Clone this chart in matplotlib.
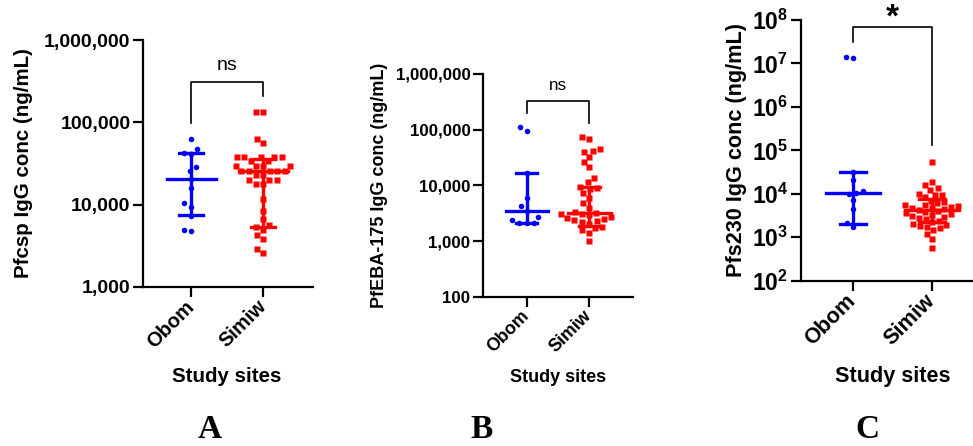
import numpy as np
import matplotlib.pyplot as plt
from matplotlib.ticker import FixedLocator, FuncFormatter, NullLocator

# Arial-like font, bold mathtext for the 10^n labels of panel C
plt.rcParams['font.family'] = 'Liberation Sans'
plt.rcParams['mathtext.fontset'] = 'custom'
plt.rcParams['mathtext.rm'] = 'Liberation Sans:bold'
plt.rcParams['mathtext.bf'] = 'Liberation Sans:bold'
plt.rcParams['mathtext.default'] = 'bf'

sites = ["Obom", "Simiw"]

# Panel A - Pfcsp IgG (ng/mL)
csp_obom = [63000, 47300, 42400, 41200, 28300, 25300, 20600, 15900, 10500, 9470, 7220, 4980, 4840]
csp_simiw = [135000, 133000, 63000, 56000, 37900, 37900, 37900, 37900, 37900, 34100, 34100,
             29100, 29100, 29100, 29100, 25300, 25300, 25300, 25300, 25300, 23100, 23100,
             20100, 20100, 20100, 18000, 18000, 11700, 8450, 6760, 5620, 5370, 4980, 4320,
             3800, 2900, 2600]
csp_median = [20600, 25300]
csp_low = [7400, 5400]
csp_high = [42700, 36000]
csp_bracket = [98600, 313000, 209000]

# Panel B - PfEBA-175 IgG (ng/mL)
eba_obom = [110000, 95000, 16500, 5900, 4170, 3470, 2700, 2350, 2090, 2090, 2090]
eba_simiw = [73000, 67000, 45000, 42000, 40000, 32000, 26000, 21000, 13500, 11500, 9500,
             9000, 8500, 7200, 6000, 4800, 4000, 3300, 3200, 3100, 3000, 2900, 2700, 2600,
             2500, 2400, 2300, 2200, 2000, 1800, 1700, 1600, 1400, 1000]
eba_median = [3470, 3200]
eba_low = [2090, 1900]
eba_high = [16500, 9250]
eba_bracket = [200000, 327000, 134000]

# Panel C - Pfs230 IgG (ng/mL)
s230_obom = [13800000, 13100000, 31000, 20800, 11600, 10700, 9800, 7200, 4480, 2090, 1750]
s230_simiw = [55000, 18400, 15900, 13300, 12200, 9900, 9600, 9400, 8600, 7000, 6500, 6000,
              5600, 5400, 5200, 5000, 4800, 4600, 4400, 4200, 4000, 3800, 3600, 3400, 3300,
              3100, 3000, 2800, 2600, 2400, 2200, 2000, 1900, 1800, 1750, 1600, 1500, 1200,
              900, 580]
s230_median = [10700, 4300]
s230_low = [2030, 2300]
s230_high = [31000, 7500]
s230_bracket = [31600000, 70000000, 133000]

blue = "#0000FF"
red = "#FF0000"

W, H = 973, 446
fig = plt.figure(figsize=(W / 100, H / 100), dpi=100)


def px_axes(left, top, right, bottom):
    return fig.add_axes([left / W, 1 - bottom / H, (right - left) / W, (bottom - top) / H])


def swarm(ax, x0, values, gap):
    # simple beeswarm: spread equal-ish values sideways, in pixels
    ys = ax.transData.transform([(x0, v) for v in values])[:, 1]
    placed = []
    offs = np.zeros(len(values))
    for i in np.argsort(ys):
        y = ys[i]
        cands = [0.0]
        for px, py in placed:
            dy = abs(py - y)
            if dy < gap:
                dx = np.sqrt(gap ** 2 - dy ** 2)
                cands += [px - dx, px + dx]
        cands.sort(key=abs)
        for c in cands:
            if all((c - px) ** 2 + (y - py) ** 2 >= gap ** 2 - 1e-6 for px, py in placed):
                break
        placed.append((c, y))
        offs[i] = c
    unit = ax.transData.transform((1, 1))[0] - ax.transData.transform((0, 1))[0]
    return x0 + offs / unit


def panel(ax, obom, simiw, med, low, high, bracket, mark, ylim, xlim, yticks, fmt,
          fs_tick, fs_lab, fs_site, ylabel, ylab_x, xlab_y, gap, ms, mark_fs, mark_pad, mark_bold):
    ax.set_yscale('log')
    ax.set_xlim(xlim)
    ax.set_ylim(ylim)
    ax.yaxis.set_major_locator(FixedLocator(yticks))
    ax.yaxis.set_minor_locator(NullLocator())
    ax.yaxis.set_major_formatter(FuncFormatter(fmt))

    groups = [(obom, blue, 'o', ms[0]), (simiw, red, 's', ms[1])]
    for i, (vals, color, marker, size) in enumerate(groups):
        xs = swarm(ax, i, vals, gap)
        ax.plot(xs, vals, ls='none', marker=marker, ms=size, color=color, mec='none',
                zorder=3, clip_on=False)
        # median with error bars
        ax.plot([i - 0.34, i + 0.34], [med[i], med[i]], color=color, lw=2.4, zorder=4)
        ax.plot([i, i], [low[i], high[i]], color=color, lw=2.4, zorder=4)
        ax.plot([i - 0.165, i + 0.165], [low[i], low[i]], color=color, lw=2.4, zorder=4)
        ax.plot([i - 0.165, i + 0.165], [high[i], high[i]], color=color, lw=2.4, zorder=4)

    # significance bracket
    ax.plot([0, 0, 1, 1], [bracket[0], bracket[1], bracket[1], bracket[2]],
            color='black', lw=1.2, clip_on=False)
    ax.annotate(mark, xy=(0.5, bracket[1]), xytext=(0, mark_pad), textcoords='offset points',
                ha='center', va='baseline', fontsize=mark_fs,
                fontweight='bold' if mark_bold else 'normal', annotation_clip=False)

    ax.spines['top'].set_visible(False)
    ax.spines['right'].set_visible(False)
    ax.spines['left'].set_linewidth(1.6)
    ax.spines['bottom'].set_linewidth(1.6)
    ax.tick_params(axis='both', length=7, width=1.6, pad=2)
    ax.tick_params(axis='x', pad=5)
    ax.tick_params(axis='y', labelsize=fs_tick)
    for t in ax.get_yticklabels():
        t.set_fontweight('bold')

    ax.set_xticks([0, 1])
    ax.set_xticklabels(sites, rotation=45, ha='right', va='center', rotation_mode='anchor',
                       fontsize=fs_site, fontweight='bold')

    ax.set_ylabel(ylabel, fontsize=fs_lab, fontweight='bold')
    ax.yaxis.set_label_coords(ylab_x, 0.5)
    ax.set_xlabel("Study sites", fontsize=fs_lab, fontweight='bold')
    ax.xaxis.set_label_coords((0.5 - xlim[0]) / (xlim[1] - xlim[0]), xlab_y)


comma = lambda v, p: f"{v:,.0f}"
power = lambda v, p: f"$10^{{{int(round(np.log10(v)))}}}$"

axA = px_axes(143, 40, 313, 287)
panel(axA, csp_obom, csp_simiw, csp_median, csp_low, csp_high, csp_bracket, "ns",
      (1e3, 1e6), (-0.667, 1.694), [1e3, 1e4, 1e5, 1e6], comma,
      14, 14.8, 14.5, "Pfcsp IgG conc (ng/mL)", -0.647, -0.325, 7.5, (4.0, 4.4), 14, 8, False)

axB = px_axes(483, 74, 633, 296.7)
panel(axB, eba_obom, eba_simiw, eba_median, eba_low, eba_high, eba_bracket, "ns",
      (1e2, 1e6), (-0.70, 1.70), [1e2, 1e3, 1e4, 1e5, 1e6], comma,
      12.2, 13, 12.9, "PfEBA-175 IgG conc (ng/mL)", -0.633, -0.325, 7.5, (4.0, 4.4), 12.3, 7.6, False)

axC = px_axes(800.7, 20, 987, 280.7)
panel(axC, s230_obom, s230_simiw, s230_median, s230_low, s230_high, s230_bracket, "*",
      (1e2, 1e8), (-0.66, 1.70), [1e2, 1e3, 1e4, 1e5, 1e6, 1e7, 1e8], power,
      16.5, 15.6, 15.6, "Pfs230 IgG conc (ng/mL)", -0.29, -0.328, 7, (4.0, 4.8), 24, 0, True)

# panel letters
for letter, x, y in [("A", 210, 430), ("B", 482, 430), ("C", 867, 430)]:
    fig.text(x / W, 1 - y / H, letter, family='Liberation Serif', fontweight='bold',
             fontsize=24, ha='center', va='center')

fig.savefig("out.png", dpi=100)
